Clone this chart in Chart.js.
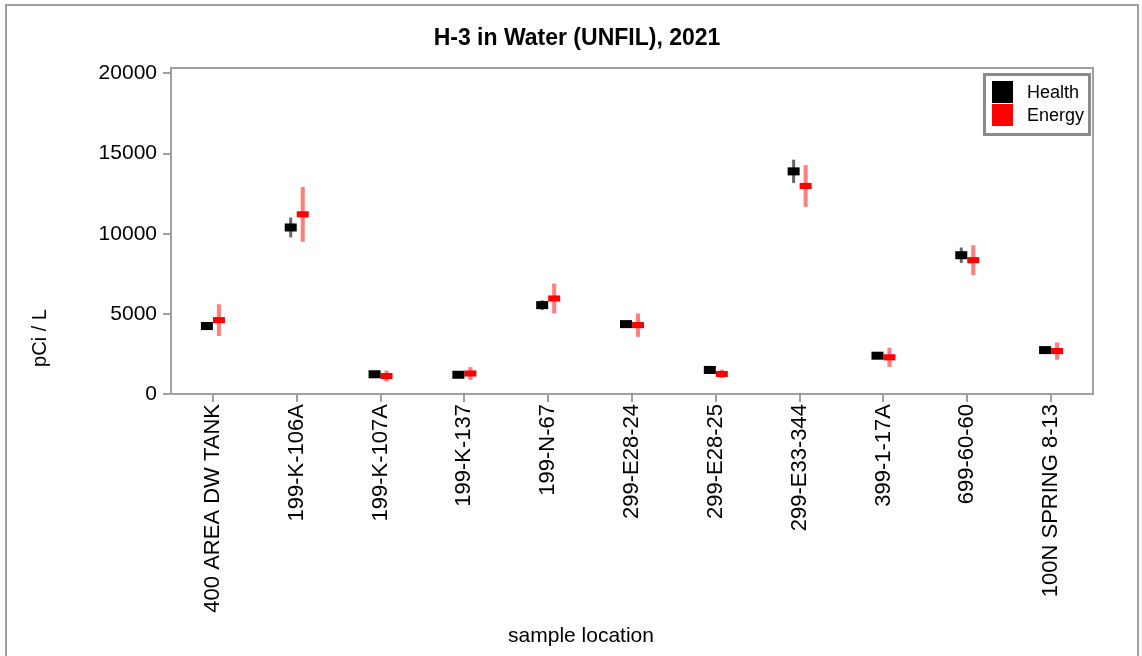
<!DOCTYPE html>
<html>
<head>
<meta charset="utf-8">
<script src="https://cdn.jsdelivr.net/npm/chart.js@4/dist/chart.umd.min.js"></script>
<style>
    html, body { margin: 0; padding: 0; background: #fff; }
</style>
</head>
<body>
<canvas id="h3-chart" width="1142" height="656"></canvas>
<script>
// data
const locations = ["400 AREA DW TANK", "199-K-106A", "199-K-107A", "199-K-137", "199-N-67",
    "299-E28-24", "299-E28-25", "299-E33-344", "399-1-17A", "699-60-60", "100N SPRING 8-13"];
const healthValues = [4240, 10390, 1230, 1200, 5545, 4360, 1500, 13890, 2390, 8660, 2740];
const healthErrors = [200, 620, 100, 100, 300, 150, 80, 730, 120, 480, 120];
const energyValues = [4610, 11210, 1120, 1280, 5960, 4300, 1250, 12980, 2290, 8350, 2680];
const energyErrors = [990, 1710, 340, 400, 930, 730, 260, 1300, 600, 935, 540];
const yTicks = [0, 5000, 10000, 15000, 20000];

const FONT = "'Liberation Sans', Arial, sans-serif";
const CAT_PCT = 24 / 83.8; // two 12px slots per category
const HEALTH_MARK = 250; // half height of the marker, in pCi/L
const ENERGY_MARK = 190;

const span = (vals, d) => vals.map((v, i) => [v - (Array.isArray(d) ? d[i] : d), v + (Array.isArray(d) ? d[i] : d)]);

// frame, titles and legend
const decor = {
    id: "decor",
    afterDraw(chart) {
        const ctx = chart.ctx;
        const a = chart.chartArea;
        ctx.save();
        ctx.strokeStyle = "#a0a0a0";
        ctx.lineWidth = 2;
        ctx.strokeRect(6, 5, 1132, 660);
        ctx.strokeRect(a.left, a.top, a.right - a.left, a.bottom - a.top);

        ctx.fillStyle = "#000";
        ctx.textAlign = "center";
        ctx.textBaseline = "middle";
        ctx.font = "bold 23px " + FONT;
        ctx.fillText("H-3 in Water (UNFIL), 2021", 577, 39);
        ctx.font = "21px " + FONT;
        ctx.fillText("sample location", 581, 636);
        ctx.save();
        ctx.translate(40, 338);
        ctx.rotate(-Math.PI / 2);
        ctx.font = "20px " + FONT;
        ctx.fillText("pCi / L", 0, 0);
        ctx.restore();

        // legend
        ctx.strokeStyle = "#8a8a8a";
        ctx.lineWidth = 3;
        ctx.strokeRect(984.5, 74.5, 105, 60);
        const items = chart.data.datasets.filter(ds => ds.inLegend);
        ctx.textAlign = "left";
        ctx.font = "18px " + FONT;
        items.forEach((ds, i) => {
            const y = 81 + i * 23;
            ctx.fillStyle = ds.backgroundColor;
            ctx.fillRect(992, y, 21, 22);
            ctx.fillStyle = "#000";
            ctx.fillText(ds.label, 1027, y + 12);
        });
        ctx.restore();
    }
};

new Chart(document.querySelector("#h3-chart"), {
    type: "bar",
    data: {
        labels: locations,
        datasets: [
            {label: "Health", inLegend: true, stack: "h", data: span(healthValues, HEALTH_MARK),
             backgroundColor: "#000000", barPercentage: 1.0},
            {label: "Energy", inLegend: true, stack: "e", data: span(energyValues, ENERGY_MARK),
             backgroundColor: "#ff0000", barPercentage: 1.0},
            {label: "Health error", stack: "h", data: span(healthValues, healthErrors),
             backgroundColor: "rgba(0,0,0,0.6)", barPercentage: 0.25},
            {label: "Energy error", stack: "e", data: span(energyValues, energyErrors),
             backgroundColor: "rgba(255,0,0,0.5)", barPercentage: 0.34},
        ]
    },
    options: {
        responsive: false,
        animation: false,
        categoryPercentage: CAT_PCT,
        borderWidth: 0,
        layout: {padding: {top: 68, right: 49, left: 0, bottom: 0}},
        plugins: {legend: {display: false}, tooltip: {enabled: false}},
        scales: {
            x: {
                offset: true,
                grid: {offset: false, drawOnChartArea: false, tickLength: 8, color: "#a0a0a0", lineWidth: 2},
                border: {display: false},
                ticks: {autoSkip: false, minRotation: 90, maxRotation: 90, padding: 2,
                        color: "#000", font: {family: FONT, size: 22}},
                afterFit: s => { s.height = 262; }
            },
            y: {
                min: 0,
                max: 20340,
                stacked: false,
                grid: {drawOnChartArea: false, tickLength: 8, color: "#a0a0a0", lineWidth: 2},
                border: {display: false},
                ticks: {stepSize: 5000, padding: 6, color: "#000", font: {family: FONT, size: 21},
                        callback: v => String(v)},
                afterBuildTicks: s => { s.ticks = yTicks.map(v => ({value: v})); },
                afterFit: s => { s.width = 171; }
            }
        }
    },
    plugins: [decor]
});
</script>
</body>
</html>
